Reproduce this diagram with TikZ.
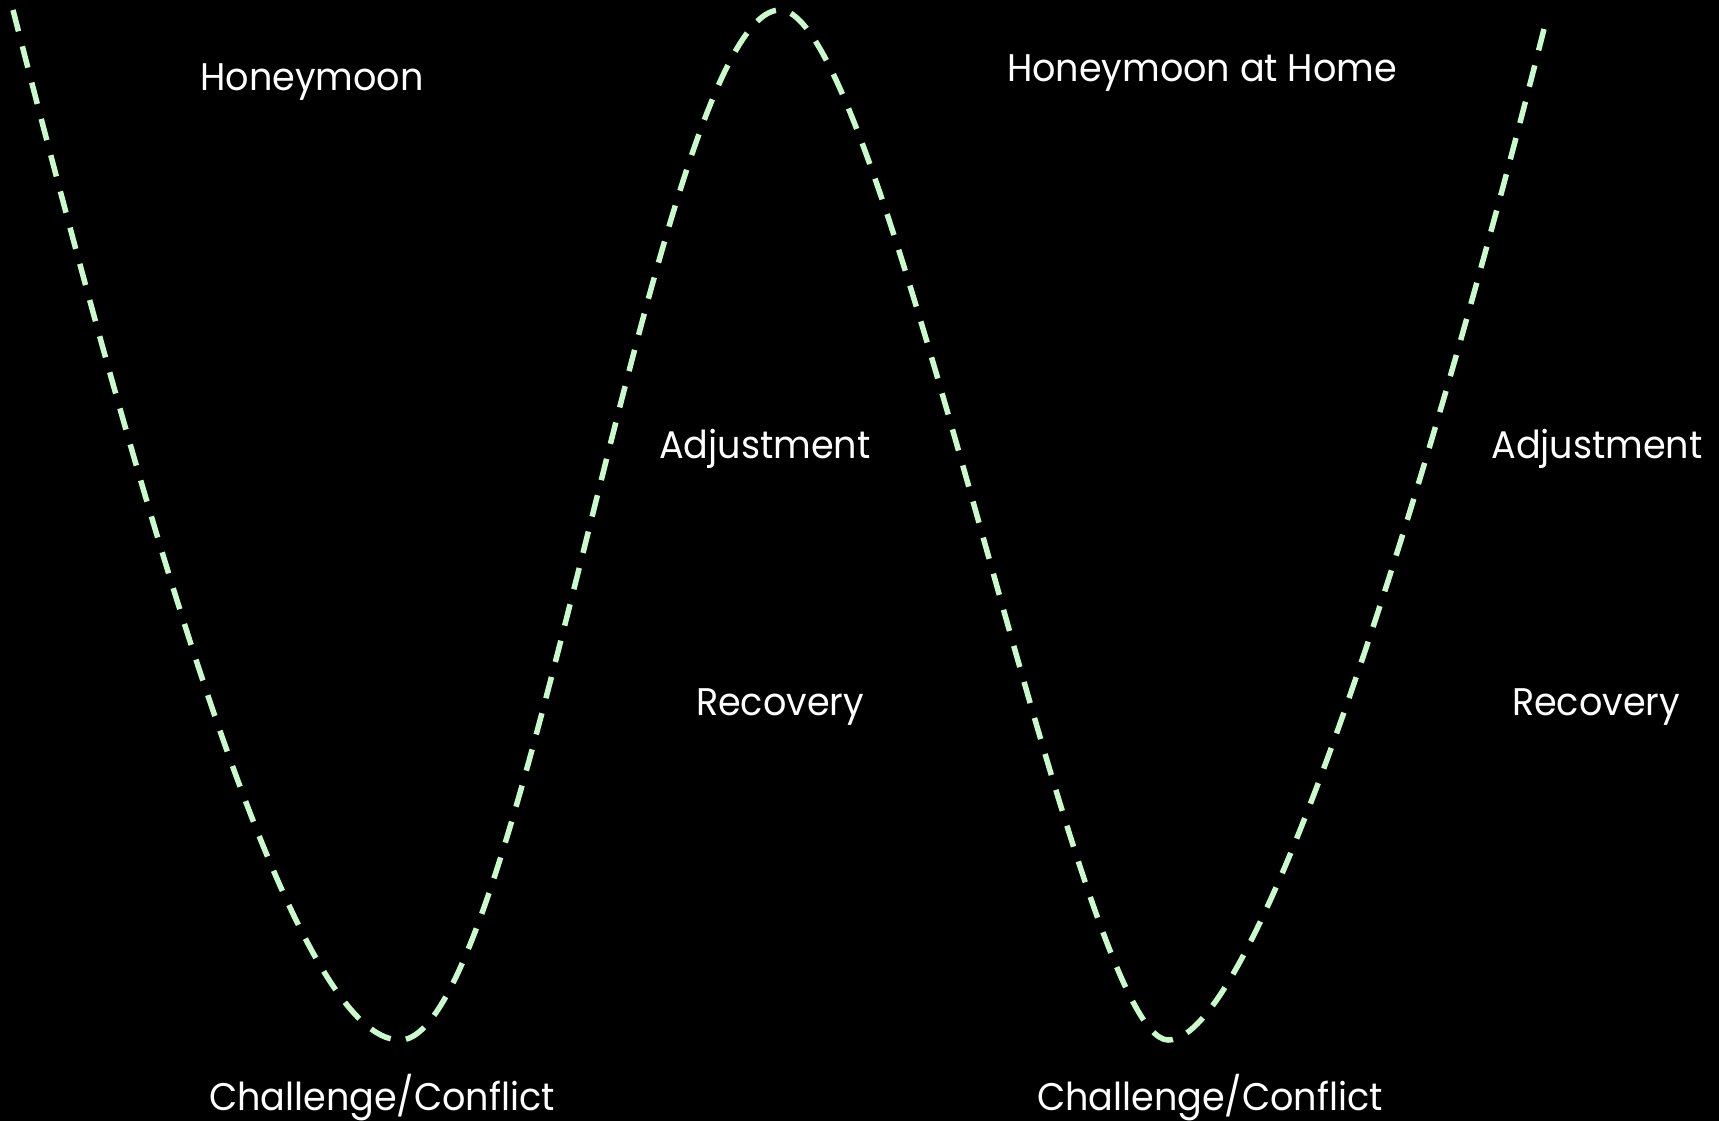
\documentclass[tikz,border=0pt]{standalone}
\usepackage{fontspec}
\setmainfont[FakeStretch=0.95]{Poppins}
\definecolor{curvegreen}{RGB}{200,250,204}
\tikzset{
  wave/.style={draw=curvegreen, line width=5.5pt, dash pattern=on 22pt off 15.5pt},
  lbl/.style={text=white, font=\fontsize{38.5}{44}\selectfont, anchor=base, inner sep=0pt}
}
\begin{document}
\begin{tikzpicture}[x=1pt,y=-1pt]
\fill[black] (0,0) rectangle (1719,1121);
\useasboundingbox (0,0) rectangle (1719,1121);
\coordinate (s) at (13,10);
\coordinate (v1) at (400,1040);
\coordinate (p) at (780,10);
\coordinate (v2) at (1168,1040);
\coordinate (e) at (1545,25);
\draw[wave] (s) .. controls (167,610) and (300,1040) .. (v1)
  .. controls (522,1040) and (658,10) .. (p)
  .. controls (885,10) and (1078,1040) .. (v2)
  .. controls (1258,1040) and (1432,475) .. (e);
\node[lbl] (honey) at (312,91) {Honeymoon};
\node[lbl] (honeyhome) at (1202,82) {Honeymoon at Home};
\node[lbl] (adj1) at (765,458) {Adjustment};
\node[lbl] (rec1) at (780,715) {Recovery};
\node[lbl] (adj2) at (1597,458) {Adjustment};
\node[lbl] (rec2) at (1596,715) {Recovery};
\node[lbl] (ch1) at (382,1110) {Challenge/Conflict};
\node[lbl] (ch2) at (1210,1110) {Challenge/Conflict};
\end{tikzpicture}
\end{document}
